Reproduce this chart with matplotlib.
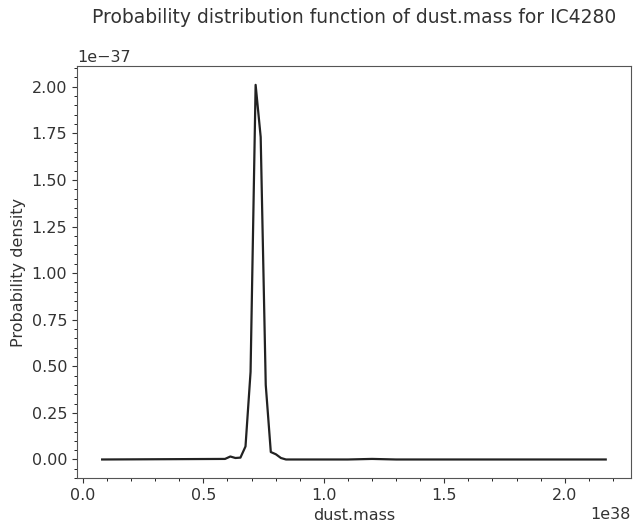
import matplotlib
matplotlib.use("Agg")
import matplotlib.pyplot as plt

# dust mass grid (units of 1e38) and probability density (units of 1e-37)
mass = [0.08, 0.59, 0.612, 0.633, 0.654, 0.675, 0.696, 0.717, 0.738, 0.759,
        0.780, 0.801, 0.822, 0.843, 1.10, 1.20, 1.30, 2.17]
density = [0.0, 0.003, 0.016, 0.008, 0.010, 0.07, 0.47, 2.01, 1.73, 0.40,
           0.04, 0.028, 0.008, 0.0, 0.0, 0.003, 0.0, 0.0]

x = [m * 1e38 for m in mass]
y = [d * 1e-37 for d in density]

fig = plt.figure(figsize=(6.36, 5.29), dpi=100)
ax = fig.add_axes([0.121, 0.096, 0.871, 0.779])
ax.plot(x, y, color="#222222", linewidth=1.6)
ax.minorticks_on()
ax.set_xlabel("dust.mass", fontsize=11.5, color="#333333")
ax.set_ylabel("Probability density", fontsize=11.5, color="#333333")
ax.set_title("Probability distribution function of dust.mass for IC4280",
             fontsize=13.5, pad=31, color="#333333")
ax.tick_params(colors="#333333", labelsize=11.5)
for s in ax.spines.values():
    s.set_color("#555555")
ax.xaxis.get_offset_text().set_fontsize(11.5)
ax.yaxis.get_offset_text().set_fontsize(11.5)

fig.savefig("out.png", dpi=100)
